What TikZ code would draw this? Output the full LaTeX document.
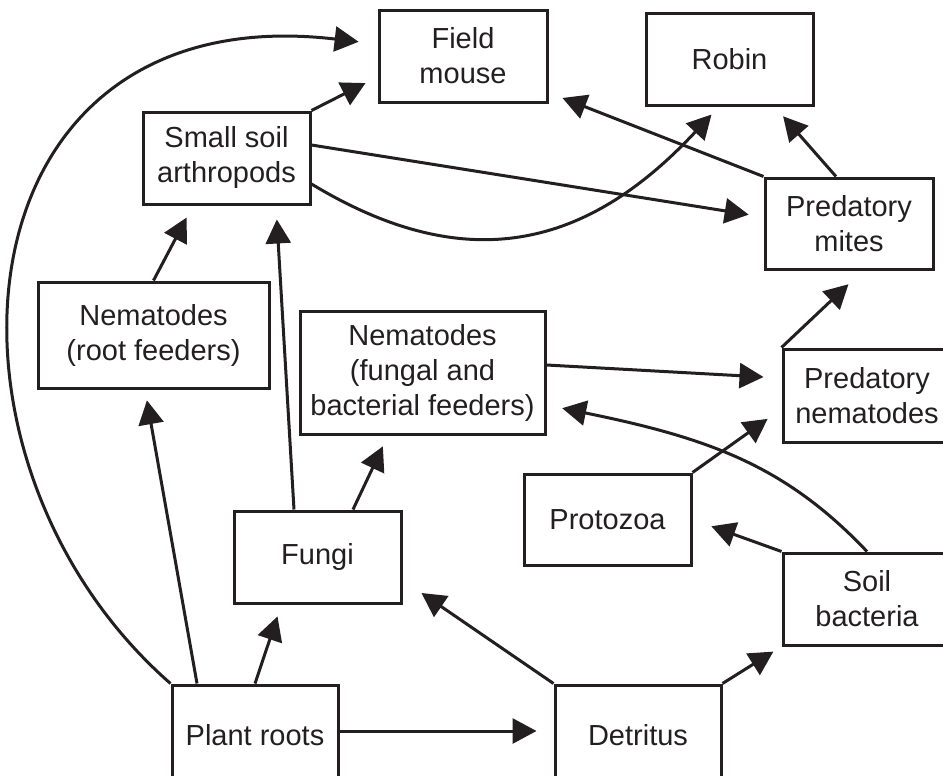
\documentclass[tikz,border=0pt]{standalone}
\usepackage{fontspec}
\setmainfont{Liberation Sans}
\usepackage{xcolor}
\usepackage{tikz}
\usetikzlibrary{arrows.meta}
\usetikzlibrary{calc}
\definecolor{ink}{RGB}{35,31,32}

\begin{document}
\begin{tikzpicture}[x=0.5pt,y=-0.5pt,
    box/.style={draw=ink, line width=1.5pt, align=center, inner sep=0pt, text=ink,
      font=\fontsize{14.5}{17.5}\selectfont},
    feed/.style={draw=ink, line width=1.5pt, -{Triangle[length=12pt,width=12.5pt]}}]
    \useasboundingbox (0,0) rectangle (943,776);
    \clip (0,0) rectangle (943,776);
    \node[box, minimum width=84pt, minimum height=46pt] (mouse) at (463,56) {Field\\mouse};
    \node[box, minimum width=83.5pt, minimum height=46pt] (robin) at (729.5,59) {Robin};
    \node[box, minimum width=83.5pt, minimum height=46pt] (arthro) at (226.5,158) {Small soil\\arthropods};
    \node[box, minimum width=84pt, minimum height=45.5pt] (mites) at (849,223.5) {Predatory\\mites};
    \node[box, minimum width=115.5pt, minimum height=53pt] (rootnem) at (153.5,335) {Nematodes\\(root feeders)};
    \node[box, minimum width=122.5pt, minimum height=61.5pt] (fungnem) at (422.5,372.5) {Nematodes\\(fungal and\\bacterial feeders)};
    \node[box, minimum width=84pt, minimum height=46.5pt] (prednem) at (867,395.5) {Predatory\\nematodes};
    \node[box, minimum width=83.5pt, minimum height=45.5pt] (protozoa) at (607.5,519.5) {Protozoa};
    \node[box, minimum width=83.5pt, minimum height=46pt] (fungi) at (317.5,557) {Fungi};
    \node[box, minimum width=84pt, minimum height=46pt] (bacteria) at (867,599) {Soil\\bacteria};
    \node[box, minimum width=83pt, minimum height=50pt] (roots) at (255,735) {Plant roots};
    \node[box, minimum width=83pt, minimum height=50pt] (detritus) at (638,735) {Detritus};

    \draw[feed, shorten >=9.5pt] (roots.north west) .. controls (-85,460) and (-50,-6) .. ($(mouse.west)+(0,-12)$);
    \draw[feed, shorten >=5.5pt] ($(roots.north)+(-58,0)$) -- ($(rootnem.south)+(-8.5,0)$);
    \draw[feed, shorten >=6.3pt] (roots.north) -- ($(fungi.south)+(-36,0)$);
    \draw[feed, shorten >=8.5pt] ($(roots.east)+(0,-4)$) -- ($(detritus.west)+(0,-4)$);
    \draw[feed, shorten >=11.5pt] (detritus.north west) -- ($(fungi.east)+(0,23)$);
    \draw[feed, shorten >=4.8pt] (detritus.north east) -- (bacteria.south west);
    \draw[feed, shorten >=10pt] (bacteria.north west) -- (protozoa.east);
    \draw[feed, shorten >=8pt] (bacteria.north) .. controls (785,465) and (708,438) .. ($(fungnem.east)+(0,32.5)$);
    \draw[feed, shorten >=8.5pt] (protozoa.north east) -- ($(prednem.west)+(0,13.5)$);
    \draw[feed, shorten >=9pt] ($(fungnem.east)+(0,-7.5)$) -- ($(prednem.west)+(0,-17.5)$);
    \draw[feed, shorten >=10pt] (prednem.north west) -- ($(mites.south)+(14,0)$);
    \draw[feed, shorten >=7.5pt] (mites.north west) -- ($(mouse.east)+(0,36.5)$);
    \draw[feed, shorten >=6.5pt] ($(mites.north)+(-13,0)$) -- ($(robin.south)+(45,0)$);
    \draw[feed, shorten >=7.5pt] ($(arthro.east)+(0,-13)$) -- ($(mites.west)+(0,-6.5)$);
    \draw[feed, shorten >=5.5pt] ($(arthro.east)+(0,26)$) .. controls (470,280) and (590,245) .. ($(robin.south)+(-10.5,0)$);
    \draw[feed, shorten >=6.7pt] (arthro.north east) -- ($(mouse.west)+(0,21)$);
    \draw[feed, shorten >=6.8pt] (rootnem.north) -- ($(arthro.south)+(-33.5,0)$);
    \draw[feed, shorten >=7pt] ($(fungi.north)+(-23.5,0)$) -- ($(arthro.south)+(49.5,0)$);
    \draw[feed, shorten >=6pt] ($(fungi.north)+(35.5,0)$) -- ($(fungnem.south)+(-34.5,0)$);
\end{tikzpicture}
\end{document}
